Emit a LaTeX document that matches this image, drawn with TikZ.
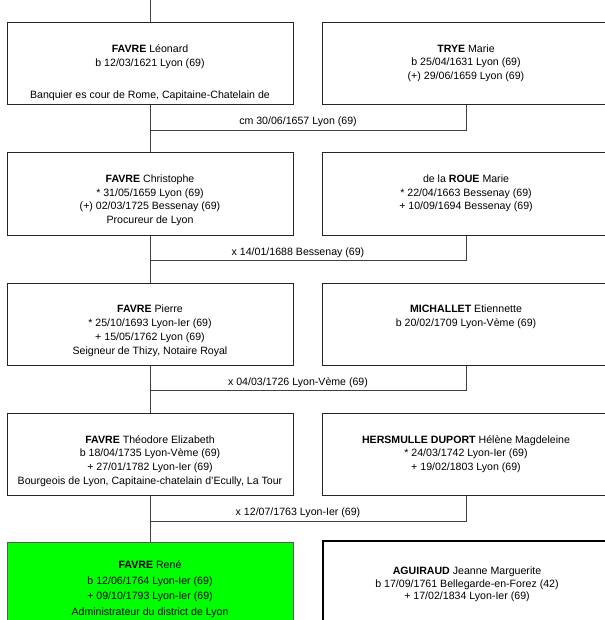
\documentclass[tikz,border=0pt]{standalone}
\usepackage{fontspec}
\setmainfont{Liberation Sans}

\begin{document}
\begin{tikzpicture}[x=1pt,y=1pt,
	personbox/.style={draw=black!85, line width=1pt, minimum height=82.3pt, inner sep=0pt},
	leftbox/.style={personbox, minimum width=286pt},
	rightbox/.style={personbox, minimum width=288pt},
	persontext/.style={anchor=north, align=center, inner sep=0pt, font=\fontsize{10.6}{13.8}\selectfont},
	weddate/.style={inner sep=0pt, font=\fontsize{10.6}{13.8}\selectfont},
	link/.style={draw=black!75, line width=0.9pt}]
			\useasboundingbox (0,0) rectangle (604,-620);
			
			\node[leftbox] (leonard) at (150,-63.85) {};
			\node[rightbox] (trye) at (466,-63.85) {};
			\node[leftbox] (christophe) at (150,-194.15) {};
			\node[rightbox] (roue) at (466,-194.15) {};
			\node[leftbox] (pierre) at (150,-324.45) {};
			\node[rightbox] (michallet) at (466,-324.45) {};
			\node[leftbox] (theodore) at (150,-454.75) {};
			\node[rightbox] (hersmulle) at (466,-454.75) {};
			\node[leftbox, fill=green, draw=black!65] (rene) at (150,-583.15) {};
			\node[rightbox, draw=black, line width=2.3pt] (aguiraud) at (467,-582.35) {};
			
			\node[persontext] (leonard-txt) at ([yshift=-22pt]leonard.north) {\textbf{FAVRE} Léonard\\ b 12/03/1621 Lyon (69)\\[19pt] Banquier es cour de Rome, Capitaine-Chatelain de};
			\node[persontext] (trye-txt) at ([yshift=-22pt]trye.north) {\textbf{TRYE} Marie\\ b 25/04/1631 Lyon (69)\\ (+) 29/06/1659 Lyon (69)};
			\node[persontext] (christophe-txt) at ([yshift=-22pt]christophe.north) {\textbf{FAVRE} Christophe\\ * 31/05/1659 Lyon (69)\\ (+) 02/03/1725 Bessenay (69)\\ Procureur de Lyon};
			\node[persontext] (roue-txt) at ([yshift=-22pt]roue.north) {de la \textbf{ROUE} Marie\\ * 22/04/1663 Bessenay (69)\\ + 10/09/1694 Bessenay (69)};
			\node[persontext] (pierre-txt) at ([yshift=-22pt]pierre.north) {\textbf{FAVRE} Pierre\\ * 25/10/1693 Lyon-Ier (69)\\ + 15/05/1762 Lyon (69)\\ Seigneur de Thizy, Notaire Royal};
			\node[persontext] (michallet-txt) at ([yshift=-22pt]michallet.north) {\textbf{MICHALLET} Etiennette\\ b 20/02/1709 Lyon-Vème (69)};
			\node[persontext] (theodore-txt) at ([yshift=-22pt]theodore.north) {\textbf{FAVRE} Théodore Elizabeth\\ b 18/04/1735 Lyon-Vème (69)\\ + 27/01/1782 Lyon-Ier (69)\\ Bourgeois de Lyon, Capitaine-chatelain d'Ecully, La Tour};
			\node[persontext] (hersmulle-txt) at ([yshift=-22pt]hersmulle.north) {\textbf{HERSMULLE DUPORT} Hélène Magdeleine\\ * 24/03/1742 Lyon-Ier (69)\\ + 19/02/1803 Lyon (69)};
			\node[persontext, font=\fontsize{10.6}{15.5}\selectfont] (rene-txt) at ([yshift=-19pt]rene.north) {\textbf{FAVRE} René\\ b 12/06/1764 Lyon-Ier (69)\\ + 09/10/1793 Lyon-Ier (69)\\ Administrateur du district de Lyon};
			\node[persontext, font=\fontsize{10.6}{12.2}\selectfont] (aguiraud-txt) at ([yshift=-27pt]aguiraud.north) {\textbf{AGUIRAUD} Jeanne Marguerite\\ b 17/09/1761 Bellegarde-en-Forez (42)\\ + 17/02/1834 Lyon-Ier (69)};
			
			\coordinate (up) at (150,0);
			\coordinate (wed1) at (150,-130);
			\coordinate (wed2) at (150,-260.3);
			\coordinate (wed3) at (150,-390.6);
			\coordinate (wed4) at (150,-521);
			
			\draw[link] (up) -- (leonard.north);
			\draw[link] (leonard.south) -- (christophe.north);
			\draw[link] (christophe.south) -- (pierre.north);
			\draw[link] (pierre.south) -- (theodore.north);
			\draw[link] (theodore.south) -- (rene.north);
			\draw[link] (trye.south) |- (wed1);
			\draw[link] (roue.south) |- (wed2);
			\draw[link] (michallet.south) |- (wed3);
			\draw[link] (hersmulle.south) |- (wed4);
			
			\node[weddate] (cm1) at (298,-122) {cm 30/06/1657 Lyon (69)};
			\node[weddate] (x2) at (298,-252.3) {x 14/01/1688 Bessenay (69)};
			\node[weddate] (x3) at (298,-382.6) {x 04/03/1726 Lyon-Vème (69)};
			\node[weddate] (x4) at (298,-513) {x 12/07/1763 Lyon-Ier (69)};
			
	\end{tikzpicture}
\end{document}
